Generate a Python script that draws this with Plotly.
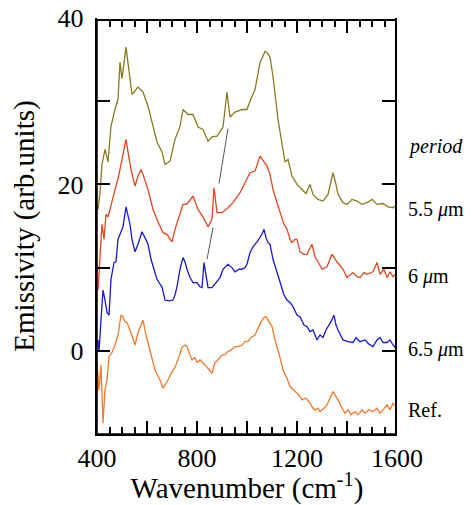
import plotly.graph_objects as go

# ---- data (wavenumber cm^-1, emissivity arb. units, offset curves) ----
x_55 = [404, 412, 420, 432, 444, 456, 472, 484, 492, 500, 516, 524, 540, 564, 584, 604, 640, 660, 672, 692,
        712, 732, 744, 764, 784, 804, 824, 844, 860, 880, 904, 920, 932, 952, 980, 1000, 1012, 1032, 1052, 1072,
        1084, 1092, 1104, 1124, 1140, 1152, 1164, 1180, 1200, 1220, 1236, 1252, 1264, 1284, 1304, 1324, 1344, 1356,
        1364, 1384, 1400, 1420, 1440, 1460, 1480, 1500, 1520, 1544, 1564, 1584, 1600]
y_55 = [17.0, 19.0, 22.4, 24.2, 22.7, 27.0, 29.0, 30.2, 34.7, 32.7, 36.5, 34.7, 30.8, 31.7, 31.1, 29.4, 25.1, 23.9, 22.4, 22.8,
        25.4, 27.0, 29.0, 28.4, 28.4, 26.9, 26.6, 25.2, 25.7, 25.8, 26.9, 31.1, 28.1, 28.7, 29.0, 29.0, 30.0, 31.4, 34.6, 36.0,
        35.7, 35.3, 33.0, 27.8, 24.8, 22.7, 23.0, 21.0, 20.0, 19.4, 18.9, 20.0, 18.8, 18.2, 18.0, 18.8, 21.4, 20.0,
        18.8, 17.8, 17.6, 18.2, 18.0, 17.6, 17.8, 18.2, 17.6, 17.7, 17.3, 17.2, 17.6]

x_6 = [404, 412, 420, 428, 436, 444, 456, 468, 476, 488, 496, 508, 516, 524, 536, 552, 564, 576, 584, 604,
       624, 644, 664, 680, 700, 712, 732, 744, 756, 764, 784, 804, 824, 844, 860, 868, 880, 900, 924, 944,
       972, 992, 1012, 1032, 1052, 1068, 1080, 1092, 1104, 1120, 1132, 1148, 1160, 1172, 1180, 1192, 1200, 1212,
       1228, 1240, 1260, 1272, 1284, 1300, 1320, 1340, 1360, 1384, 1400, 1424, 1440, 1452, 1468, 1480, 1504,
       1520, 1532, 1548, 1560, 1572, 1584, 1596, 1600]
y_6 = [7.3, 11.6, 15.2, 13.4, 16.4, 16.1, 17.6, 18.8, 19.8, 21.2, 22.4, 24.2, 25.4, 23.9, 21.8, 19.8, 21.0, 21.8, 21.2, 19.4,
       17.0, 15.5, 14.2, 14.0, 13.1, 14.6, 16.6, 17.6, 17.6, 17.8, 18.6, 17.0, 16.1, 14.9, 15.8, 19.6, 16.6, 16.6, 17.2, 17.8,
       19.0, 20.2, 21.4, 21.6, 23.4, 22.7, 22.2, 21.2, 19.4, 17.8, 16.7, 15.2, 14.6, 13.4, 13.0, 13.4, 13.4, 11.9,
       11.6, 11.6, 12.8, 11.3, 10.7, 9.8, 10.1, 11.6, 10.7, 9.8, 8.8, 9.4, 8.9, 8.8, 9.4, 9.2, 9.5,
       10.6, 9.2, 9.8, 8.8, 9.5, 8.9, 9.2, 9.4]

x_65 = [404, 408, 416, 424, 432, 440, 448, 456, 468, 476, 484, 496, 504, 516, 524, 532, 540, 552, 564, 580,
        592, 604, 616, 632, 640, 652, 660, 672, 688, 704, 712, 720, 732, 744, 752, 760, 772, 784, 800, 812,
        820, 828, 836, 844, 860, 880, 892, 904, 924, 940, 952, 968, 980, 992, 1000, 1012, 1024, 1040, 1052,
        1060, 1068, 1076, 1084, 1092, 1104, 1120, 1132, 1148, 1160, 1172, 1184, 1200, 1212, 1228, 1240, 1252,
        1264, 1280, 1292, 1304, 1316, 1324, 1336, 1348, 1356, 1364, 1384, 1404, 1424, 1436, 1452, 1472, 1488,
        1504, 1520, 1532, 1544, 1560, 1572, 1584, 1600]
y_65 = [1.3, -0.1, 3.7, 7.3, 6.1, 4.6, 4.3, 8.6, 10.6, 10.7, 13.4, 14.3, 14.9, 17.3, 16.4, 15.2, 13.4, 11.9, 12.8, 14.3,
        13.6, 12.8, 11.0, 9.5, 8.6, 8.0, 7.7, 6.1, 6.0, 6.1, 6.7, 7.7, 9.8, 11.2, 10.7, 9.8, 8.8, 8.2, 8.2, 7.7,
        7.6, 10.6, 8.8, 7.6, 7.6, 8.3, 8.8, 9.8, 10.4, 10.0, 9.5, 9.8, 9.8, 10.0, 10.4, 11.8, 12.5, 13.1, 13.6,
        14.0, 14.6, 13.6, 13.0, 12.8, 11.0, 9.5, 8.2, 6.7, 6.1, 5.8, 5.3, 4.3, 4.1, 3.1, 2.9, 2.3,
        2.5, 1.3, 1.9, 1.6, 2.5, 2.9, 3.5, 4.3, 3.1, 2.5, 1.3, 1.1, 1.0, 1.6, 1.1, 1.3, 0.8,
        0.5, 1.3, 1.6, 1.0, 1.0, 1.3, 0.7, 0.1]

x_ref = [400, 408, 416, 424, 432, 440, 448, 460, 472, 484, 496, 504, 512, 520, 532, 544, 552, 564, 576, 584,
         596, 604, 616, 632, 652, 664, 676, 684, 700, 712, 728, 740, 752, 760, 772, 780, 792, 800, 812, 820,
         832, 840, 852, 860, 872, 884, 900, 912, 924, 936, 952, 964, 980, 992, 1004, 1016, 1032, 1044, 1056,
         1068, 1076, 1088, 1100, 1112, 1120, 1132, 1144, 1160, 1172, 1188, 1200, 1212, 1220, 1236, 1252, 1264,
         1272, 1284, 1292, 1308, 1320, 1332, 1344, 1356, 1364, 1380, 1392, 1404, 1416, 1432, 1444, 1460, 1472,
         1488, 1504, 1520, 1532, 1544, 1560, 1572, 1584, 1600]
y_ref = [-1.4, -4.7, -1.7, -8.7, -4.7, -3.5, -0.7, -0.2, 0.7, 1.9, 4.3, 4.1, 3.5, 3.4, 2.5, 1.3, 0.7, 2.2, 3.1, 3.7,
         1.9, 1.0, -0.5, -2.3, -3.5, -4.5, -3.9, -3.5, -2.5, -2.0, -0.7, 0.4, 0.7, 0.5, -0.5, -1.1, -0.8, -1.4, -1.1, -1.3,
         -1.7, -2.0, -2.5, -2.7, -1.4, -1.1, -0.5, -0.5, -0.1, 0.1, 0.5, 0.5, 0.7, 1.1, 1.1, 1.6, 1.9, 2.8, 3.5,
         4.0, 4.1, 3.5, 2.9, 1.3, 0.5, -0.8, -2.3, -3.3, -4.3, -4.7, -5.1, -5.5, -5.9, -5.7, -6.3, -6.9,
         -7.1, -6.9, -7.3, -6.9, -6.5, -5.7, -4.9, -5.5, -5.9, -6.9, -7.5, -7.1, -7.7, -7.3, -7.7, -7.1, -7.5,
         -7.1, -7.3, -6.9, -7.5, -7.1, -6.5, -7.1, -6.3, -6.9]

# guide lines linking the shifting peak
guide1_x = [924, 888]
guide1_y = [26.7, 20.1]
guide2_x = [864, 840]
guide2_y = [14.8, 11.0]

labels = ["<i>period</i>", "5.5 <i>μ</i>m", "6 <i>μ</i>m", "6.5 <i>μ</i>m", "Ref."]
label_y = [24.5, 17.0, 8.9, 0.1, -7.1]

x_major = [400, 600, 800, 1000, 1200, 1400, 1600]
x_ticktext = ["400", " ", "800", " ", "1200", " ", "1600"]
y_tickvals = [0, 10, 20, 30, 40]
y_ticktext = ["0\u00a0", " ", "20\u00a0", " ", "40\u00a0"]

FONT = "Liberation Serif, Times New Roman, serif"
AX = "black"
EDGE = 0.996  # top / right frame drawn just inside the plot area

fig = go.Figure()
series = [(x_ref, y_ref, "#f07a2a"), (x_65, y_65, "#1717d6"), (x_6, y_6, "#e2461c"), (x_55, y_55, "#8a7a1c")]
for xs, ys, c in series:
    fig.add_trace(go.Scatter(x=xs, y=ys, mode="lines", line=dict(color=c, width=1.3), showlegend=False,
                             hoverinfo="skip"))
for gx, gy in [(guide1_x, guide1_y), (guide2_x, guide2_y)]:
    fig.add_trace(go.Scatter(x=gx, y=gy, mode="lines", line=dict(color="#555555", width=1), showlegend=False,
                             hoverinfo="skip"))
# invisible trace on the top / right axes so their ticks are drawn
fig.add_trace(go.Scatter(x=[x_major[0]], y=[y_tickvals[0]], xaxis="x2", yaxis="y2", mode="markers",
                         marker=dict(opacity=0), showlegend=False, hoverinfo="skip"))

for t, yv in zip(labels, label_y):
    fig.add_annotation(x=1.03, xref="paper", y=yv, yref="y", text=t, showarrow=False,
                       xanchor="left", yanchor="middle", font=dict(family=FONT, size=20, color="black"))

# frame (backup for the top / right edges)
fig.add_shape(type="rect", xref="paper", yref="paper", x0=0, x1=EDGE, y0=0, y1=EDGE,
              line=dict(color=AX, width=1.5), layer="above")

fig.update_layout(
    width=466, height=497,
    margin=dict(l=89, r=77, t=10, b=71),
    paper_bgcolor="white", plot_bgcolor="white",
    font=dict(family=FONT, color="black"),
    xaxis2=dict(overlaying="x", side="top", anchor="free", position=EDGE, range=[400, 1600],
                tickvals=x_major, showticklabels=False, ticks="inside", ticklen=13, tickwidth=1.5,
                tickcolor=AX,
                minor=dict(dtick=50, tick0=400, ticks="inside", ticklen=7, tickwidth=1.5, tickcolor=AX),
                showgrid=False, zeroline=False, showline=True, linecolor=AX, linewidth=1.5,
                automargin=False),
    yaxis2=dict(overlaying="y", side="right", anchor="free", position=EDGE, range=[-10, 40],
                tickvals=y_tickvals, showticklabels=False, ticks="inside", ticklen=13, tickwidth=1.5,
                tickcolor=AX, showgrid=False, zeroline=False, showline=True, linecolor=AX, linewidth=1.5,
                automargin=False),
)
fig.layout.xaxis.update(
    range=[400, 1600], tickvals=x_major, ticktext=x_ticktext,
    ticks="inside", ticklen=13, tickwidth=1.5, tickcolor=AX,
    minor=dict(dtick=50, tick0=400, ticks="inside", ticklen=7, tickwidth=1.5, tickcolor=AX, showgrid=False),
    showline=True, linecolor=AX, linewidth=1.5, showgrid=False, zeroline=False,
    tickfont=dict(family=FONT, size=26), automargin="bottom",
    title=dict(text="Wavenumber (cm<sup>-1</sup>)", font=dict(family=FONT, size=29), standoff=0),
)
fig.layout.yaxis.update(
    range=[-10, 40], tickvals=y_tickvals, ticktext=y_ticktext, ticks="inside", ticklen=13, tickwidth=1.5,
    tickcolor=AX, showline=True, linecolor=AX, linewidth=1.5, showgrid=False,
    zeroline=False, tickfont=dict(family=FONT, size=26), automargin="left", ticklabeloverflow="allow",
    title=dict(text="Emissivity (arb.units)", font=dict(family=FONT, size=29), standoff=14),
)

fig.write_html("out.html")
